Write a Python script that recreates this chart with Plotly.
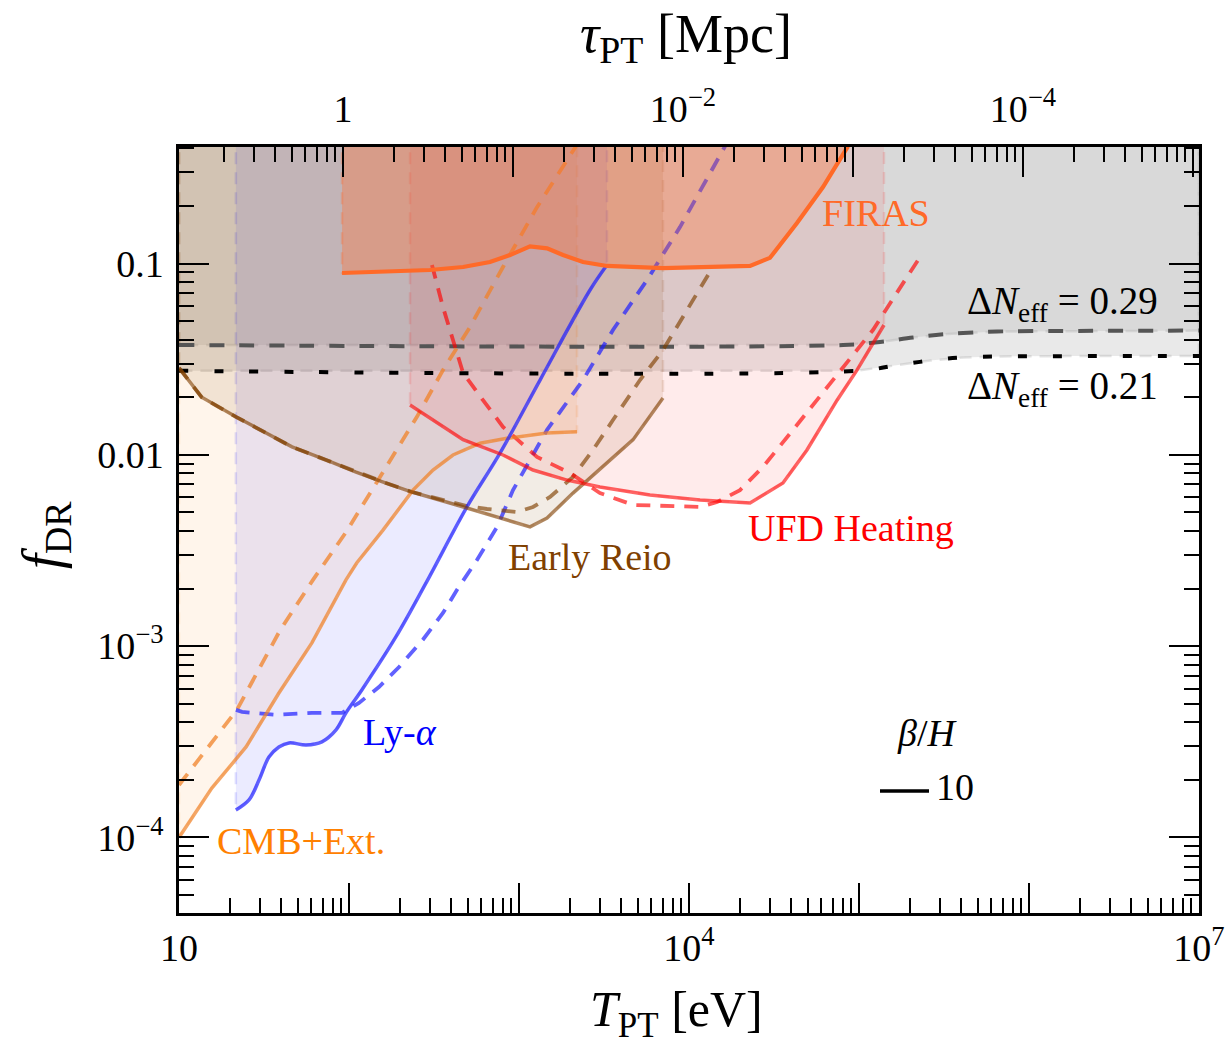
import plotly.graph_objects as go

# ---------------- data (T_PT in eV, f_DR) ----------------
F_TOP = 1.0          # upper edge of excluded regions (beyond the plot top)
T0_TAU = 92.2        # T_PT [eV] corresponding to tau_PT = 1 Mpc

cmb_T = [10, 15.6, 24.8, 38.7, 60.5, 96, 111, 158.5, 238, 312, 409, 590, 850, 1462, 2193]
cmb_f = [1.0e-4, 1.81e-4, 2.97e-4, 5.69e-4, 1.04e-3, 2.22e-3, 2.72e-3, 4.04e-3,
         6.54e-3, 8.33e-3, 9.98e-3, 1.15e-2, 1.22e-2, 1.30e-2, 1.32e-2]
cmb_dash_T = [10, 21.9, 39.3, 61.4, 97.1, 133, 251, 357, 515, 805, 1276, 2163]
cmb_dash_f = [1.88e-4, 4.64e-4, 1.21e-3, 2.22e-3, 4.0e-3, 6.31e-3, 1.58e-2, 2.77e-2,
              4.66e-2, 9.59e-2, 0.197, 0.41]

lya_T = [21.6, 25.8, 29.6, 33.8, 38.7, 44.4, 55.9, 69.3, 83.9, 96, 119, 189, 284,
         494, 773, 1330, 2617, 3293]
lya_f = [1.39e-4, 1.57e-4, 2.0e-4, 2.63e-4, 2.97e-4, 3.12e-4, 3.04e-4, 3.16e-4,
         3.65e-4, 4.48e-4, 5.9e-4, 1.12e-3, 2.14e-3, 5.34e-3, 1.02e-2, 2.46e-2,
         7.27e-2, 9.82e-2]
lya_dash_T = [21.6, 23.5, 37.2, 60.5, 91, 114.5, 150, 197, 272, 357, 432, 566, 743,
              922, 1462, 2379, 3571, 5665, 8850, 16290]
lya_dash_f = [4.64e-4, 4.53e-4, 4.37e-4, 4.48e-4, 4.48e-4, 5.05e-4, 6.11e-4, 7.78e-4,
              1.08e-3, 1.49e-3, 1.97e-3, 2.82e-3, 4.2e-3, 6.54e-3, 1.35e-2, 2.46e-2,
              4.49e-2, 8.2e-2, 0.155, 0.41]

reio_T = [10, 13.6, 21.6, 32.5, 46.2, 73.2, 110, 165, 234.7, 494, 1161, 1462, 2078,
          4690, 7030]
reio_f = [0.0285, 0.0200, 0.0158, 0.0130, 0.0110, 0.0094, 0.00813, 0.00712, 0.00639,
          0.00527, 0.0042, 0.00467, 0.00631, 0.0120, 0.0198]
reio_dash_T = [10, 13.6, 21.6, 32.5, 46.2, 73.2, 110, 165, 234.7, 494, 648, 973, 1209,
               1522, 2078, 2725, 3571, 5150, 7030, 12950]
reio_dash_f = [0.0285, 0.0200, 0.0158, 0.0130, 0.0110, 0.0094, 0.00813, 0.00712,
               0.00639, 0.0054, 0.00521, 0.00502, 0.00534, 0.00602, 0.00766, 0.0106,
               0.0152, 0.0246, 0.0353, 0.0871]

ufd_T = [228.6, 469, 805, 1209, 1916, 2994, 5900, 11610, 22860, 35700, 49420, 74300,
         97300, 140300]
ufd_f = [0.0182, 0.0120, 0.00998, 0.00833, 0.00738, 0.00679, 0.00617, 0.0058, 0.0056,
         0.00712, 0.0106, 0.0193, 0.0277, 0.0477]
ufd_dash_T = [307.6, 357, 409, 469, 614, 805, 1276, 1995, 2994, 4690, 11610, 14620,
              19950, 27230, 40910, 70300, 120800, 191600, 228600]
ufd_dash_f = [0.0982, 0.0592, 0.0398, 0.0268, 0.0193, 0.0140, 0.00975, 0.00803,
              0.00631, 0.00547, 0.00534, 0.00566, 0.00654, 0.00864, 0.0135, 0.0246,
              0.0449, 0.085, 0.108]

firas_T = [91, 299, 469, 675, 885, 1161, 1462, 1815, 2379, 3293, 7030, 13830, 22860,
           29930, 43180, 61400, 86100]
firas_f = [0.0892, 0.0925, 0.0959, 0.1018, 0.1107, 0.123, 0.120, 0.1107, 0.1018,
           0.0971, 0.0947, 0.0959, 0.0971, 0.107, 0.163, 0.251, 0.41]

neff029_T = [10, 80500, 133000, 208000, 330000, 649000, 1.675e6, 1e7]
neff029_f = [0.0375, 0.0375, 0.0389, 0.0410, 0.0428, 0.0441, 0.0444, 0.0446]
neff021_T = [10, 97300, 167500, 262000, 409000, 675000, 1.675e6, 1e7]
neff021_f = [0.0275, 0.0275, 0.0294, 0.0311, 0.0323, 0.0327, 0.0328, 0.0328]

# tick definitions
x_major = [10 ** n for n in range(1, 8)]
x_text = ["10", "", "", "10<sup>4</sup>", "", "", "10<sup>7</sup>"]
x_minor = [k * 10 ** n for n in range(1, 7) for k in range(2, 10)]
tau_major = [T0_TAU * 10 ** n for n in range(0, 6)]
tau_text = ["1", "", "10<sup>−2</sup>", "", "10<sup>−4</sup>", ""]
tau_minor = [T0_TAU * k * 10 ** n for n in range(-1, 6) for k in range(2, 10)
             if T0_TAU * k * 10 ** n < 1e7]
y_major = [1e-4, 1e-3, 1e-2, 1e-1]
y_text = ["10<sup>−4</sup>", "10<sup>−3</sup>", "0.01", "0.1"]
y_minor = [k * 10 ** n for n in range(-5, 0) for k in range(2, 10)]

# ---------------- figure ----------------
FONT = "Liberation Serif"
fig = go.Figure()


def region(T, f, fill, edge):
    fig.add_trace(go.Scatter(
        x=[T[0]] + T + [T[-1]], y=[F_TOP] + f + [F_TOP],
        mode="lines", fill="toself", fillcolor=fill,
        line=dict(color=edge, width=2.5, dash="12px,8px"),
        hoverinfo="skip", showlegend=False))


def curve(T, f, color, width, dash="solid", shape="linear"):
    fig.add_trace(go.Scatter(
        x=T, y=f, mode="lines",
        line=dict(color=color, width=width, dash=dash, shape=shape),
        hoverinfo="skip", showlegend=False))


# Delta N_eff excluded regions
region(neff021_T, neff021_f, "rgba(175,175,175,0.27)", "rgba(175,175,175,0.35)")
region(neff029_T, neff029_f, "rgba(175,175,175,0.27)", "rgba(175,175,175,0.35)")

# other excluded regions
region(cmb_T, cmb_f, "rgba(255,128,0,0.08)", "rgba(255,128,0,0.12)")
region(lya_T, lya_f, "rgba(0,0,255,0.08)", "rgba(0,0,255,0.12)")
region(reio_T, reio_f, "rgba(128,64,0,0.10)", "rgba(128,64,0,0.12)")
region(ufd_T, ufd_f, "rgba(255,0,0,0.08)", "rgba(255,0,0,0.12)")

# Delta N_eff lines
curve(neff029_T, neff029_f, "#555555", 4, dash="15px,15px", shape="spline")
curve(neff021_T, neff021_f, "#000000", 4, dash="9px,26px", shape="spline")

# dashed curves
DASH = "14px,10px"
curve(cmb_dash_T, cmb_dash_f, "rgba(240,130,40,0.75)", 3.8, dash=DASH)
curve(lya_dash_T, lya_dash_f, "rgba(30,30,255,0.7)", 3.8, dash=DASH)
curve(reio_dash_T, reio_dash_f, "rgba(128,64,0,0.65)", 3.8, dash=DASH)
curve(ufd_dash_T, ufd_dash_f, "rgba(255,0,0,0.65)", 3.8, dash=DASH)

# solid curves
curve(cmb_T, cmb_f, "rgba(240,130,40,0.7)", 3.5)
curve(lya_T, lya_f, "rgba(30,30,255,0.7)", 3.5, shape="spline")
curve(reio_T, reio_f, "rgba(128,64,0,0.6)", 3.5)
curve(ufd_T, ufd_f, "rgba(255,0,0,0.6)", 3.5)

# FIRAS
region(firas_T, firas_f, "rgba(255,110,50,0.34)", "rgba(255,110,50,0.3)")
curve(firas_T, firas_f, "#ff6a28", 4.2)

# dummy trace so the top (tau) axis is drawn
fig.add_trace(go.Scatter(x=[x_major[0], x_major[-1]], y=[y_major[0], y_major[0]],
                         xaxis="x2", mode="lines", line=dict(width=0),
                         opacity=0, hoverinfo="skip", showlegend=False))

tick_common = dict(ticks="inside", ticklen=30, tickwidth=1.5, tickcolor="black",
                   showgrid=False, zeroline=False, showline=True, linewidth=2.5,
                   linecolor="black", automargin=False,
                   tickfont=dict(family=FONT, size=38, color="black"))
minor_common = dict(ticks="inside", ticklen=15, tickwidth=1.5, tickcolor="black",
                    showgrid=False)

fig.update_layout(
    width=1229, height=1051,
    margin=dict(l=179, r=30, t=147, b=138, pad=0, autoexpand=False),
    paper_bgcolor="white", plot_bgcolor="white",
    font=dict(family=FONT, size=38, color="black"),
    showlegend=False,
    xaxis=dict(type="log", range=[1, 7], tickmode="array", tickvals=x_major,
               ticktext=x_text, minor=dict(tickvals=x_minor, **minor_common),
               ticklabelstandoff=0, **tick_common),
    xaxis2=dict(type="log", range=[1, 7], overlaying="x", side="top", anchor="y",
                tickmode="array", tickvals=tau_major, ticktext=tau_text,
                minor=dict(tickvals=tau_minor, **minor_common),
                ticklabelstandoff=7, **tick_common),
    yaxis=dict(type="log", range=[-4.395, -0.391], tickmode="array", tickvals=y_major,
               ticktext=y_text, minor=dict(tickvals=y_minor, **minor_common),
               mirror="ticks", ticklabelstandoff=5, **tick_common),
)


def px(x):
    return (x - 179) / 1020


def py(y):
    return (913 - y) / 766


def label(text, x, y, color="black", size=38, angle=0):
    fig.add_annotation(text=text, x=px(x), y=py(y), xref="paper", yref="paper",
                       showarrow=False, textangle=angle,
                       font=dict(family=FONT, size=size, color=color),
                       xanchor="center", yanchor="middle")


label("FIRAS", 876, 213, "#ff6a28")
label("Δ<i>N</i><sub>eff</sub> = 0.29", 1062, 303, size=39)
label("Δ<i>N</i><sub>eff</sub> = 0.21", 1062, 388, size=39)
label("UFD Heating", 851, 528, "#ff0000")
label("Early Reio", 590, 557, "#804000")
label("Ly-<i>α</i>", 400, 732, "#0000ff")
label("CMB+Ext.", 301, 841, "#ff8000")
label("<i>β</i>/<i>H</i>", 927, 733)
label("10", 955, 787)
fig.add_shape(type="line", xref="paper", yref="paper", x0=px(880), x1=px(929),
              y0=py(791), y1=py(791), line=dict(color="black", width=3.5))

# axis titles
label("<i>T</i><sub>PT</sub> [eV]", 676, 1013, size=50)
label("<i>τ</i><sub>PT</sub> [Mpc]", 686, 38, size=54)
label("<i>f</i><sub>DR</sub>", 45, 535, size=54, angle=-90)

fig.write_html("out.html")
